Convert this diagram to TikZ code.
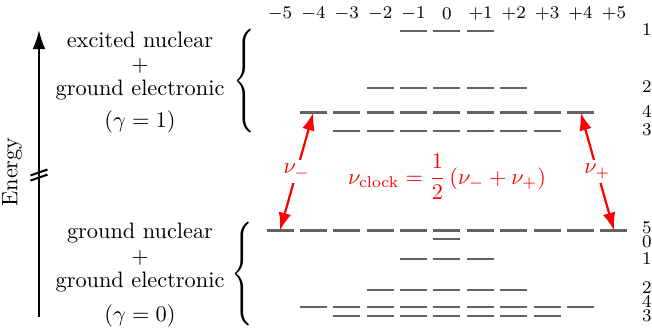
\documentclass[tikz,border=0pt]{standalone}
\usepackage{amsmath}
\usepackage{graphicx}
\usetikzlibrary{positioning,arrows.meta}
\definecolor{levelgray}{RGB}{100,100,100}
\definecolor{clockred}{RGB}{255,0,0}

\begin{document}
\begin{tikzpicture}[
    lvl/.style={
        levelgray,
        line width=1pt
    },
    mlabel/.style={
        font=\footnotesize
    },
    flabel/.style={
        font=\footnotesize,
        inner sep=0.5pt
    },
    desc/.style={
        align=center,
        anchor=north
    },
    bracenode/.style={
        inner sep=0pt
    },
    transarr/.style={
        {Latex[length=2.8mm,width=2mm]}-{Latex[length=2.8mm,width=2mm]},
        clockred,
        line width=1pt
    },
    axisarr/.style={
        -{Latex[length=3mm,width=2mm]},
        line width=0.9pt
    }
]
\useasboundingbox (-7.036,0) rectangle (3.227,5.273);

% ============================================================
% m_F LABELS ON TOP
% ============================================================

\foreach \m/\t in {-5/-5,-4/-4,-3/-3,-2/-2,-1/-1,0/0,1/+1,2/+2,3/+3,4/+4,5/+5}
    \node[mlabel] (m\m) at ({0.5257*\m},5.053) {$\t$};

% ============================================================
% EXCITED NUCLEAR STATE (gamma = 1)
% ============================================================

\foreach \m in {-1,...,1}
    \draw[lvl] ({0.5257*\m-0.2125},4.785) -- ++(0.425,0);
\foreach \m in {-2,...,2}
    \draw[lvl] ({0.5257*\m-0.2125},3.888) -- ++(0.425,0);
\foreach \m in {-4,...,4}
    \draw[lvl] ({0.5257*\m-0.2125},3.502) -- ++(0.425,0);
\foreach \m in {-3,...,3}
    \draw[lvl] ({0.5257*\m-0.2125},3.211) -- ++(0.425,0);

\node[flabel] (fe1) at (3.148,4.801) {1};
\node[flabel] (fe2) at (3.148,3.904) {2};
\node[flabel] (fe4) at (3.148,3.526) {4};
\node[flabel] (fe3) at (3.148,3.227) {3};

% ============================================================
% GROUND NUCLEAR STATE (gamma = 0)
% ============================================================

\foreach \m in {-5,...,5}
    \draw[lvl] ({0.5257*\m-0.2125},1.645) -- ++(0.425,0);
\draw[lvl] (-0.2125,1.511) -- ++(0.425,0);
\foreach \m in {-1,...,1}
    \draw[lvl] ({0.5257*\m-0.2125},1.196) -- ++(0.425,0);
\foreach \m in {-2,...,2}
    \draw[lvl] ({0.5257*\m-0.2125},0.708) -- ++(0.425,0);
\foreach \m in {-4,...,4}
    \draw[lvl] ({0.5257*\m-0.2125},0.441) -- ++(0.425,0);
\foreach \m in {-3,...,3}
    \draw[lvl] ({0.5257*\m-0.2125},0.299) -- ++(0.425,0);

\node[flabel] (fg5) at (3.148,1.690) {5};
\node[flabel] (fg0) at (3.148,1.475) {0};
\node[flabel] (fg1) at (3.148,1.196) {1};
\node[flabel] (fg2) at (3.148,0.745) {2};
\node[flabel] (fg4) at (3.148,0.522) {4};
\node[flabel] (fg3) at (3.148,0.295) {3};

% ============================================================
% CLOCK TRANSITIONS
% ============================================================

\coordinate (exc4l) at (-2.103,3.502);
\coordinate (exc4r) at (2.103,3.502);
\coordinate (gnd5l) at (-2.6285,1.645);
\coordinate (gnd5r) at (2.6285,1.645);

\draw[transarr] (exc4l) -- node[fill=white, inner sep=2pt, text=clockred] (numinus) {$\nu_-$} (gnd5l);
\draw[transarr] (exc4r) -- node[fill=white, inner sep=2pt, text=clockred] (nuplus) {$\nu_+$} (gnd5r);

\node[text=clockred] (clock) at (0,2.487)
{$\nu_{\text{clock}} = \dfrac{1}{2}\,(\nu_- + \nu_+)$};

% ============================================================
% STATE DESCRIPTIONS AND BRACES
% ============================================================

\node[desc] (excited) at (-4.832,4.900)
{excited nuclear\\[-1.2pt]$+$\\[-1.2pt]ground electronic\\[2.6pt]$(\gamma=1)$};
\node[desc] (ground) at (-4.832,1.879)
{ground nuclear\\[-1.2pt]$+$\\[-1.2pt]ground electronic\\[3.2pt]$(\gamma=0)$};

\node[bracenode] (bexc) at (-3.195,3.998) {\scalebox{1.2}[1.55]{$\Bigg\{$}};
\node[bracenode] (bgnd) at (-3.227,0.960) {\scalebox{1.2}[1.55]{$\Bigg\{$}};

% ============================================================
% ENERGY AXIS
% ============================================================

\coordinate (ebot) at (-6.422,0.283);
\coordinate (etop) at (-6.422,4.801);
\coordinate (brk) at (-6.422,2.518);

\draw[axisarr] (ebot) -- (etop);
\draw[line width=0.9pt] ([shift={(-0.134,-0.087)}]brk) -- ++(0.268,0.094);
\draw[line width=0.9pt] ([shift={(-0.134,-0.007)}]brk) -- ++(0.268,0.094);

\node[rotate=90] (energy) at (-6.847,2.566) {Energy};

\end{tikzpicture}
\end{document}
